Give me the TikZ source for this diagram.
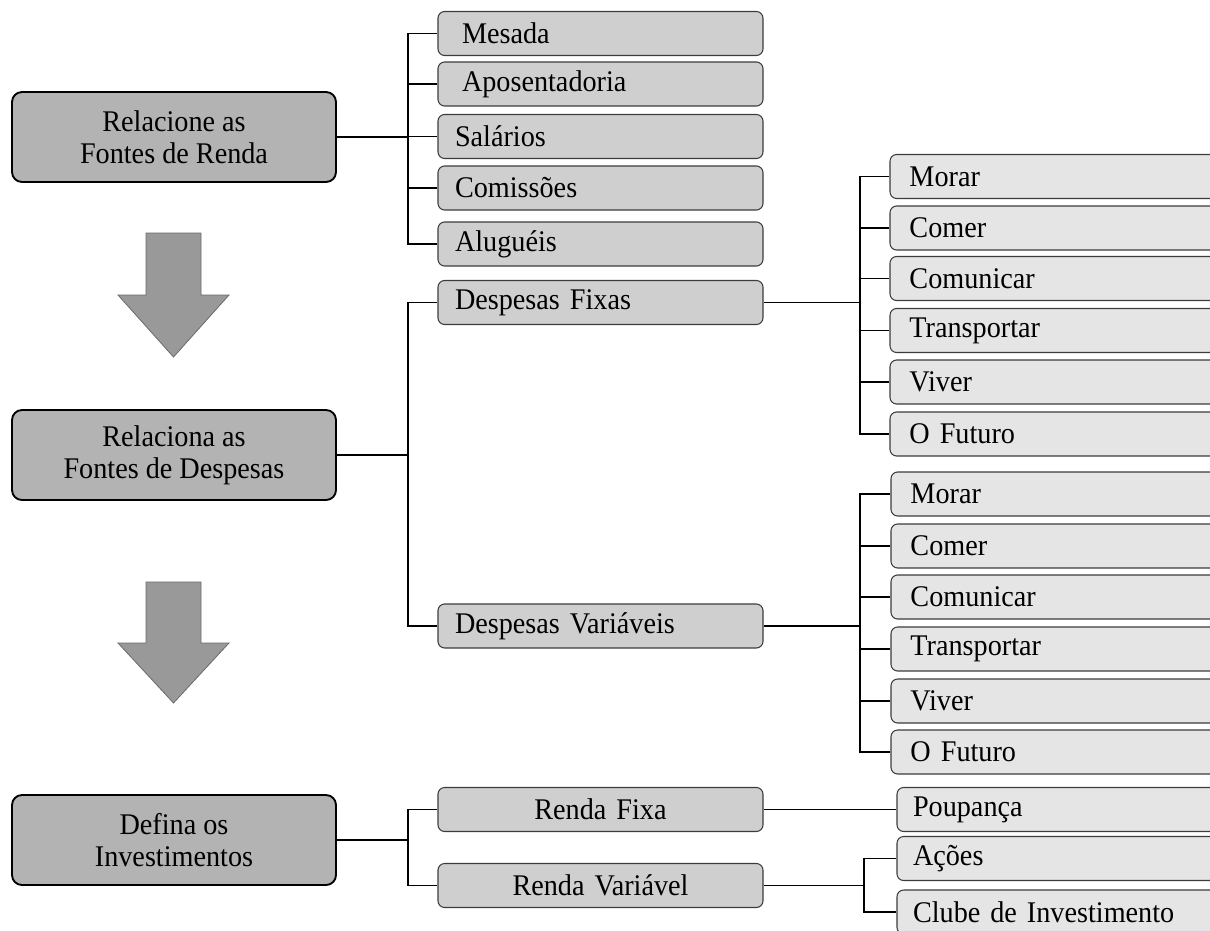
\documentclass[tikz,border=0pt]{standalone}
\usepackage{fontspec}
\setmainfont{Liberation Serif}[FakeStretch=0.94]
\definecolor{boxdark}{HTML}{B3B3B3}
\definecolor{boxmid}{HTML}{CFCFCF}
\definecolor{boxlight}{HTML}{E5E5E5}
\definecolor{arrowfill}{HTML}{999999}
\definecolor{arrowline}{HTML}{6A6A6A}
\definecolor{edge}{HTML}{3C3C3C}
\begin{document}
\begin{tikzpicture}[x=0.75pt,y=-0.75pt,
  every node/.style={font=\fontsize{22.5pt}{24pt}\selectfont, text=black},
  mainbox/.style={draw=black, line width=1.4pt, fill=boxdark, rounded corners=7.5pt,
    minimum width=243pt, minimum height=67.5pt, align=center, inner sep=0pt},
  midbox/.style={draw=edge, line width=0.8pt, fill=boxmid, rounded corners=5pt,
    minimum height=33pt, inner ysep=0pt, inner xsep=12.75pt, text width=218.25pt, align=left},
  midboxwide/.style={midbox, inner xsep=18pt, text width=207.75pt},
  midboxc/.style={midbox, align=center},
  leafbox/.style={draw=edge, line width=0.8pt, fill=boxlight, rounded corners=5pt,
    minimum height=33pt, inner ysep=0pt, inner xsep=14.6pt, text width=225.8pt, align=left},
  leafboxb/.style={leafbox, inner xsep=12pt, text width=231pt},
  link/.style={draw=black, line width=1.4pt},
  bigarrow/.style={fill=arrowfill, draw=arrowline, line width=0.6pt, line join=miter}
]
\useasboundingbox (0,0) rectangle (1210,931);
\begin{scope}
\clip (0,0) rectangle (1210,931);

% main steps
\node[mainbox] (renda) at (174,137) {Relacione as\\Fontes de Renda};
\node[mainbox] (despesas) at (174,455) {Relaciona as\\Fontes de Despesas};
\node[mainbox] (invest) at (174,840) {Defina os\\Investimentos};

% down arrows between the steps
\draw[bigarrow] (146,233) -- (201,233) -- (201,295) -- (229,295) -- (173.5,357) -- (118,295) -- (146,295) -- cycle;
\draw[bigarrow] (146,582) -- (201,582) -- (201,643) -- (229,643) -- (173.5,703) -- (118,643) -- (146,643) -- cycle;

% sources of income
\node[midboxwide] (mesada) at (600.5,33.5) {Mesada};
\node[midboxwide] (apos) at (600.5,84) {Aposentadoria};
\node[midbox] (salarios) at (600.5,136.5) {Salários};
\node[midbox] (comissoes) at (600.5,188) {Comissões};
\node[midbox] (alugueis) at (600.5,244) {Aluguéis};

% expense groups
\node[midbox] (fixas) at (600.5,302.5) {Despesas Fixas};
\node[midbox] (variaveis) at (600.5,626) {Despesas Variáveis};

% investment groups
\node[midboxc] (rfixa) at (600.5,809.5) {Renda Fixa};
\node[midboxc] (rvar) at (600.5,885.5) {Renda Variável};

% fixed expenses
\node[leafbox] (morarA) at (1060,176.5) {Morar};
\node[leafbox] (comerA) at (1060,228) {Comer};
\node[leafbox] (comunA) at (1060,278.5) {Comunicar};
\node[leafbox] (transA) at (1060,330.5) {Transportar};
\node[leafbox] (viverA) at (1060,382) {Viver};
\node[leafbox] (futuroA) at (1060,434) {O Futuro};

% variable expenses
\node[leafbox] (morarB) at (1061,494) {Morar};
\node[leafbox] (comerB) at (1061,546) {Comer};
\node[leafbox] (comunB) at (1061,597) {Comunicar};
\node[leafbox] (transB) at (1061,649) {Transportar};
\node[leafbox] (viverB) at (1061,701) {Viver};
\node[leafbox] (futuroB) at (1061,752) {O Futuro};

% investments
\node[leafboxb] (poupanca) at (1067,809.5) {Poupança};
\node[leafboxb] (acoes) at (1067,858.5) {Ações};
\node[leafboxb] (clube) at (1067,912) {Clube de Investimento};

% bracket junctions
\coordinate (jr) at (408,137);
\coordinate (jd) at (408,455);
\coordinate (ji) at (408,840);
\coordinate (jf) at (860,302.5);
\coordinate (jv) at (860,626);
\coordinate (jrv) at (864,885.5);

\draw[link] (renda.east) -- (jr);
\foreach \c in {mesada,apos,salarios,comissoes,alugueis}
  \draw[link] (jr) |- (\c.west);

\draw[link] (despesas.east) -- (jd);
\foreach \c in {fixas,variaveis}
  \draw[link] (jd) |- (\c.west);

\draw[link] (invest.east) -- (ji);
\foreach \c in {rfixa,rvar}
  \draw[link] (ji) |- (\c.west);

\draw[link] (fixas.east) -- (jf);
\foreach \c in {morarA,comerA,comunA,transA,viverA,futuroA}
  \draw[link] (jf) |- (\c.west);

\draw[link] (variaveis.east) -- (jv);
\foreach \c in {morarB,comerB,comunB,transB,viverB,futuroB}
  \draw[link] (jv) |- (\c.west);

\draw[link] (rfixa.east) -- (poupanca.west);

\draw[link] (rvar.east) -- (jrv);
\foreach \c in {acoes,clube}
  \draw[link] (jrv) |- (\c.west);
\end{scope}
\end{tikzpicture}
\end{document}
